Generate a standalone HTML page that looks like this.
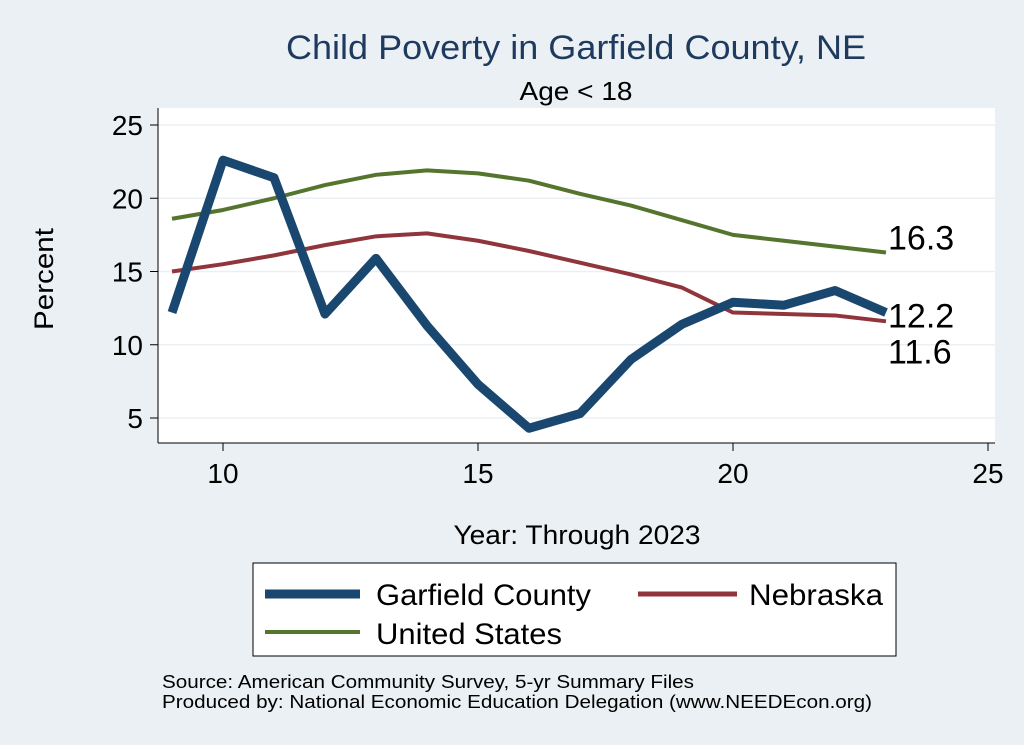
<!DOCTYPE html>
<html><head><meta charset="utf-8"><style>
body{margin:0;background:#eaf0f3;}
svg{display:block;font-family:"Liberation Sans",sans-serif;}
</style></head><body>
<svg id="c" width="1024" height="745">
<rect width="1024" height="745" fill="#eaf0f3"/>
<text x="576" y="59" font-size="34" fill="#1f3a5f" text-anchor="middle" textLength="580" lengthAdjust="spacingAndGlyphs">Child Poverty in Garfield County, NE</text>
<text x="576" y="100" font-size="26" text-anchor="middle" textLength="113" lengthAdjust="spacingAndGlyphs">Age &lt; 18</text>
<rect x="158" y="108" width="837" height="335" fill="#fff"/>
<g id="grid"></g><g id="axes"></g><g id="series"></g>
<text x="53" y="279" font-size="27" text-anchor="middle" transform="rotate(-90 53 279)" textLength="102" lengthAdjust="spacingAndGlyphs">Percent</text>
<text x="577" y="544" font-size="27" text-anchor="middle" textLength="247" lengthAdjust="spacingAndGlyphs">Year: Through 2023</text>
<g>
<rect x="253" y="563" width="643" height="93" fill="#fff" stroke="#000" stroke-width="1"/>
<line x1="265" y1="594" x2="360" y2="594" stroke="#1a476f" stroke-width="9"/>
<text x="376" y="605" font-size="30" textLength="215" lengthAdjust="spacingAndGlyphs">Garfield County</text>
<line x1="638" y1="594" x2="737" y2="594" stroke="#90353b" stroke-width="5"/>
<text x="749" y="605" font-size="30" textLength="134" lengthAdjust="spacingAndGlyphs">Nebraska</text>
<line x1="265" y1="632" x2="360" y2="632" stroke="#55752f" stroke-width="4"/>
<text x="376" y="644" font-size="30" textLength="186" lengthAdjust="spacingAndGlyphs">United States</text>
</g>
<text x="162" y="688" font-size="18" textLength="532" lengthAdjust="spacingAndGlyphs">Source: American Community Survey, 5-yr Summary Files</text>
<text x="162" y="708" font-size="18" textLength="710" lengthAdjust="spacingAndGlyphs">Produced by: National Economic Education Delegation (www.NEEDEcon.org)</text>
</svg>
<script>
const years=[9,10,11,12,13,14,15,16,17,18,19,20,21,22,23];
const garfield=[12.2,22.6,21.4,12.1,15.9,11.3,7.3,4.3,5.3,9.0,11.4,12.9,12.7,13.7,12.2];
const nebraska=[15.0,15.5,16.1,16.8,17.4,17.6,17.1,16.4,15.6,14.8,13.9,12.2,12.1,12.0,11.6];
const us=[18.6,19.2,20.0,20.9,21.6,21.9,21.7,21.2,20.3,19.5,18.5,17.5,17.1,16.7,16.3];
const xTicks=[10,15,20,25];
const yTicks=[5,10,15,20,25];
const NS='http://www.w3.org/2000/svg';
const X=t=>223+(t-10)*51;
const Y=v=>125+(25-v)*14.65;
function mk(tag,at,parent){const e=document.createElementNS(NS,tag);for(const k in at)e.setAttribute(k,at[k]);document.getElementById(parent).appendChild(e);return e;}
yTicks.forEach(v=>{
 const g=mk('line',{x1:158,x2:995,y1:Y(v),y2:Y(v),stroke:'#eaf0f3','stroke-width':1.5},'grid');
 
 
 const t=mk('line',{x1:150,x2:158,y1:Y(v),y2:Y(v),stroke:'#000'},'axes');
 
 
 const l=mk('text',{x:143,y:Y(v)+10,'font-size':28,'text-anchor':'end'},'axes');l.textContent=v;
 
 
});
xTicks.forEach(v=>{
 const t=mk('line',{x1:X(v),x2:X(v),y1:443,y2:451,stroke:'#000'},'axes');
 
 
 const l=mk('text',{x:X(v),y:483,'font-size':28,'text-anchor':'middle'},'axes');l.textContent=v;
 
 
});
const ya=mk('line',{x1:158,x2:158,y1:108,y2:443,stroke:'#000'},'axes');


const xa=mk('line',{x1:158,x2:995,y1:443,y2:443,stroke:'#000'},'axes');


function line(vals,color,w,name){
 const p=mk('polyline',{points:vals.map((v,i)=>X(years[i])+','+Y(v)).join(' '),fill:'none',stroke:color,'stroke-width':w,'stroke-linejoin':'round'},'series');
 
 
}
line(us,'#55752f',4,'us-line');
line(nebraska,'#90353b',4,'nebraska-line');
line(garfield,'#1a476f',9,'garfield-line');
function lab(vals,dy,name){const n=vals.length-1;const t=mk('text',{x:X(years[n])+2,y:Y(vals[n])+dy,'font-size':34},'series');t.textContent=vals[n].toFixed(1);
 
 }
lab(us,-3,'us-end-label');lab(garfield,15,'garfield-end-label');lab(nebraska,42,'nebraska-end-label');
</script>
</body></html>
